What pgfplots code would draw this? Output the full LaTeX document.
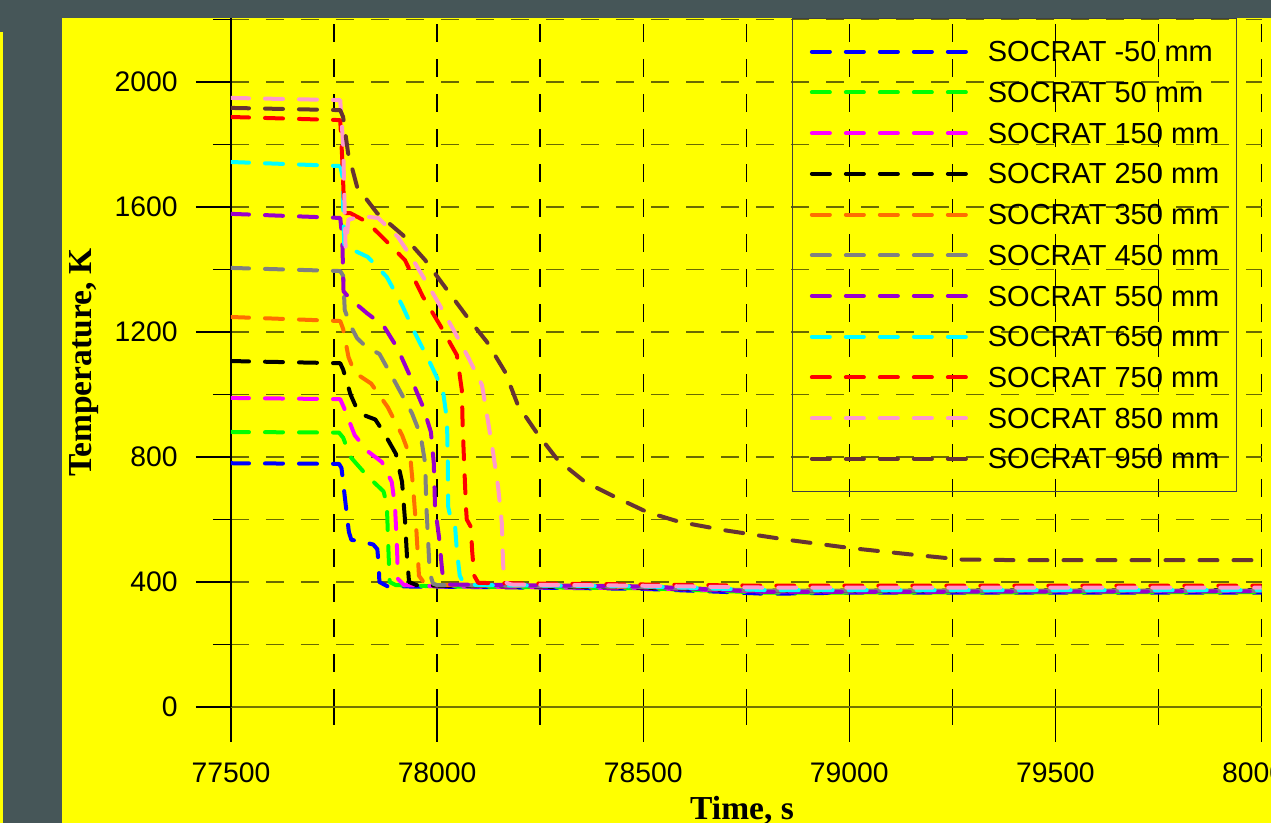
\documentclass[border=0pt]{standalone}
\usepackage{fontspec}
\setmainfont{Liberation Serif}
\newfontfamily\arial{Liberation Sans}
\usepackage{pgfplots}
\pgfplotsset{compat=1.18}
\definecolor{bgdark}{RGB}{70,86,88}
\definecolor{yel}{RGB}{255,255,0}
\definecolor{gridol}{RGB}{105,105,0}
\definecolor{cOrange}{RGB}{255,110,0}
\definecolor{cGray}{RGB}{128,128,128}
\definecolor{cPurple}{RGB}{153,0,204}
\definecolor{cPink}{RGB}{255,153,204}
\definecolor{cBrown}{RGB}{102,51,51}
\definecolor{cGreen}{RGB}{0,255,0}
\definecolor{cMag}{RGB}{255,0,255}
\definecolor{cCyan}{RGB}{0,255,255}
\definecolor{cBlue}{RGB}{0,0,255}
\definecolor{cRed}{RGB}{255,0,0}
\begin{document}
\begin{tikzpicture}[x=0.5pt,y=0.5pt]
\path[use as bounding box] (0,0) rectangle (1271,823);
\begin{scope}
\clip (0,0) rectangle (1271,823);
\fill[bgdark] (0,0) rectangle (1271,823);
\fill[yel] (62,0) rectangle (1271,805);
\fill[yel] (0,0) rectangle (3,791);
\begin{axis}[
  at={(115.5pt,58pt)}, anchor=south west,
  scale only axis, width=515.25pt, height=344.5pt,
  xmin=77500, xmax=80000, ymin=0, ymax=2204.8,
  axis x line*=bottom, axis y line*=left,
  xtick={77500,78000,...,80000}, minor xtick={77750,78250,...,79750},
  ytick={0,400,...,2000}, minor ytick={200,600,...,2200},
  scaled x ticks=false, scaled y ticks=false,
  tick align=outside,
  major tick length=17.5pt, minor tick length=9pt,
  tick style={black, line width=0.65pt},
  grid=both,
  x grid style={black, line width=0.65pt, dash pattern=on 9pt off 8.5pt},
  y grid style={gridol, line width=0.85pt, dash pattern=on 9pt off 8.5pt},
  x axis line style={black!55!yel, line width=0.9pt},
  y axis line style={black, line width=0.65pt},
  /pgf/number format/assume math mode=true,
  /pgf/number format/1000 sep={},
  /pgf/number format/fixed,
  /pgf/number format/precision=0,
  tick label style={font=\arial\fontsize{14.15}{17}\selectfont},
  xticklabel style={inner sep=0pt, yshift=-10pt},
  yticklabel style={inner sep=0pt, xshift=-9pt},
  xlabel={Time, s},
  ylabel={Temperature, K},
  every axis x label/.style={at={(axis description cs:0.4959,-0.1626)}, anchor=base, font=\bfseries\fontsize{16.75}{20}\selectfont},
  every axis y label/.style={at={(axis description cs:-0.1349,0.5)}, anchor=base, rotate=90, font=\bfseries\fontsize{16.75}{20}\selectfont},
  legend style={at={(0.9762,1)}, anchor=north east, draw=black!75, line width=0.6pt, fill=none,
    inner xsep=8.5pt, inner ysep=11.5pt, row sep=10.2pt, column sep=9.5pt,
    font=\arial\fontsize{14.5}{17}\selectfont,
    nodes={inner sep=0pt, text height=10.15pt, text depth=0pt}},
  legend cell align=left,
  legend image code/.code={\draw[#1, line width=2pt, dash pattern=on 9pt off 8pt, line cap=round] (0pt,0pt) -- (77.5pt,0pt);},
  every axis plot/.append style={line width=2pt, dash pattern=on 9pt off 8pt, line cap=round, line join=round},
  clip=true,
]
% -50 mm
\addplot[cBlue] coordinates {(77500,780) (77762,778) (77768,765) (77772,720) (77778,650) (77786,560) (77792,535) (77820,528) (77845,520) (77855,505) (77858,460) (77860,400) (77880,386) (78000,385) (78300,381) (78500,378) (78700,368) (78800,362) (79000,366) (80000,366)};
% 50 mm
\addplot[cGreen] coordinates {(77500,880) (77762,878) (77772,862) (77790,800) (77830,740) (77870,690) (77878,650) (77882,500) (77885,400) (77900,390) (78000,386) (78500,380) (78800,366) (80000,368)};
% 150 mm
\addplot[cMag] coordinates {(77500,989) (77765,985) (77775,955) (77800,870) (77830,820) (77866,784) (77890,720) (77898,640) (77903,500) (77905,410) (77920,390) (78000,386) (78500,380) (78800,370) (80000,372)};
% 250 mm
\addplot[black] coordinates {(77500,1107) (77765,1100) (77772,1080) (77790,1000) (77810,940) (77850,920) (77870,880) (77900,810) (77915,720) (77922,600) (77927,480) (77932,400) (77950,390) (78000,388) (78500,382) (78800,372) (80000,374)};
% 350 mm
\addplot[cOrange] coordinates {(77500,1248) (77765,1235) (77772,1210) (77785,1120) (77800,1070) (77840,1035) (77880,960) (77915,870) (77935,800) (77942,700) (77950,560) (77956,420) (77970,395) (78000,390) (78500,384) (78800,374) (80000,376)};
% 450 mm
\addplot[cGray] coordinates {(77500,1405) (77765,1395) (77772,1380) (77776,1270) (77790,1220) (77806,1180) (77830,1150) (77860,1130) (77898,1040) (77939,940) (77960,870) (77971,780) (77974,640) (77978,540) (77982,430) (77990,395) (78000,390) (78500,384) (78800,372) (80000,372)};
% 550 mm
\addplot[cPurple] coordinates {(77500,1578) (77765,1565) (77770,1500) (77773,1330) (77790,1305) (77830,1260) (77870,1220) (77903,1150) (77934,1060) (77966,960) (77985,880) (77992,780) (77995,640) (78005,540) (78012,440) (78016,400) (78030,392) (78500,386) (78800,368) (80000,370)};
% 650 mm
\addplot[cCyan] coordinates {(77500,1744) (77765,1731) (77770,1700) (77775,1470) (77800,1460) (77832,1440) (77878,1376) (77915,1286) (77946,1197) (77983,1101) (78014,1014) (78024,918) (78026,780) (78027,640) (78032,610) (78043,590) (78048,500) (78055,420) (78065,395) (78100,390) (78500,386) (78800,374) (80000,374)};
% 750 mm
\addplot[cRed] coordinates {(77500,1888) (77765,1878) (77770,1750) (77775,1580) (77790,1580) (77830,1552) (77881,1485) (77922,1430) (77966,1312) (78007,1222) (78048,1126) (78060,1014) (78062,900) (78065,800) (78070,640) (78072,600) (78082,576) (78085,500) (78090,420) (78100,397) (78500,392) (78800,388) (80000,388)};
% 850 mm
\addplot[cPink] coordinates {(77500,1949) (77765,1942) (77772,1800) (77778,1470) (77785,1560) (77820,1570) (77857,1565) (77905,1504) (77942,1430) (77995,1312) (78036,1216) (78075,1120) (78109,1030) (78123,918) (78136,813) (78148,704) (78157,589) (78160,461) (78163,400) (78180,392) (78500,388) (78800,382) (80000,382)};
% 950 mm
\addplot[cBrown] coordinates {(77500,1917) (77765,1910) (77772,1888) (77784,1773) (77806,1664) (77854,1581) (77917,1510) (77971,1430) (78019,1344) (78073,1248) (78121,1168) (78165,1072) (78196,966) (78242,877) (78293,790) (78359,720) (78432,672) (78509,624) (78589,592) (78700,565) (78850,535) (79000,509) (79150,488) (79270,472) (79400,470) (80000,470)};
\legend{SOCRAT -50 mm, SOCRAT 50 mm, SOCRAT 150 mm, SOCRAT 250 mm, SOCRAT 350 mm, SOCRAT 450 mm, SOCRAT 550 mm, SOCRAT 650 mm, SOCRAT 750 mm, SOCRAT 850 mm, SOCRAT 950 mm}
\end{axis}
\fill[bgdark] (62,805) rectangle (1271,823);
\end{scope}
\end{tikzpicture}
\end{document}
